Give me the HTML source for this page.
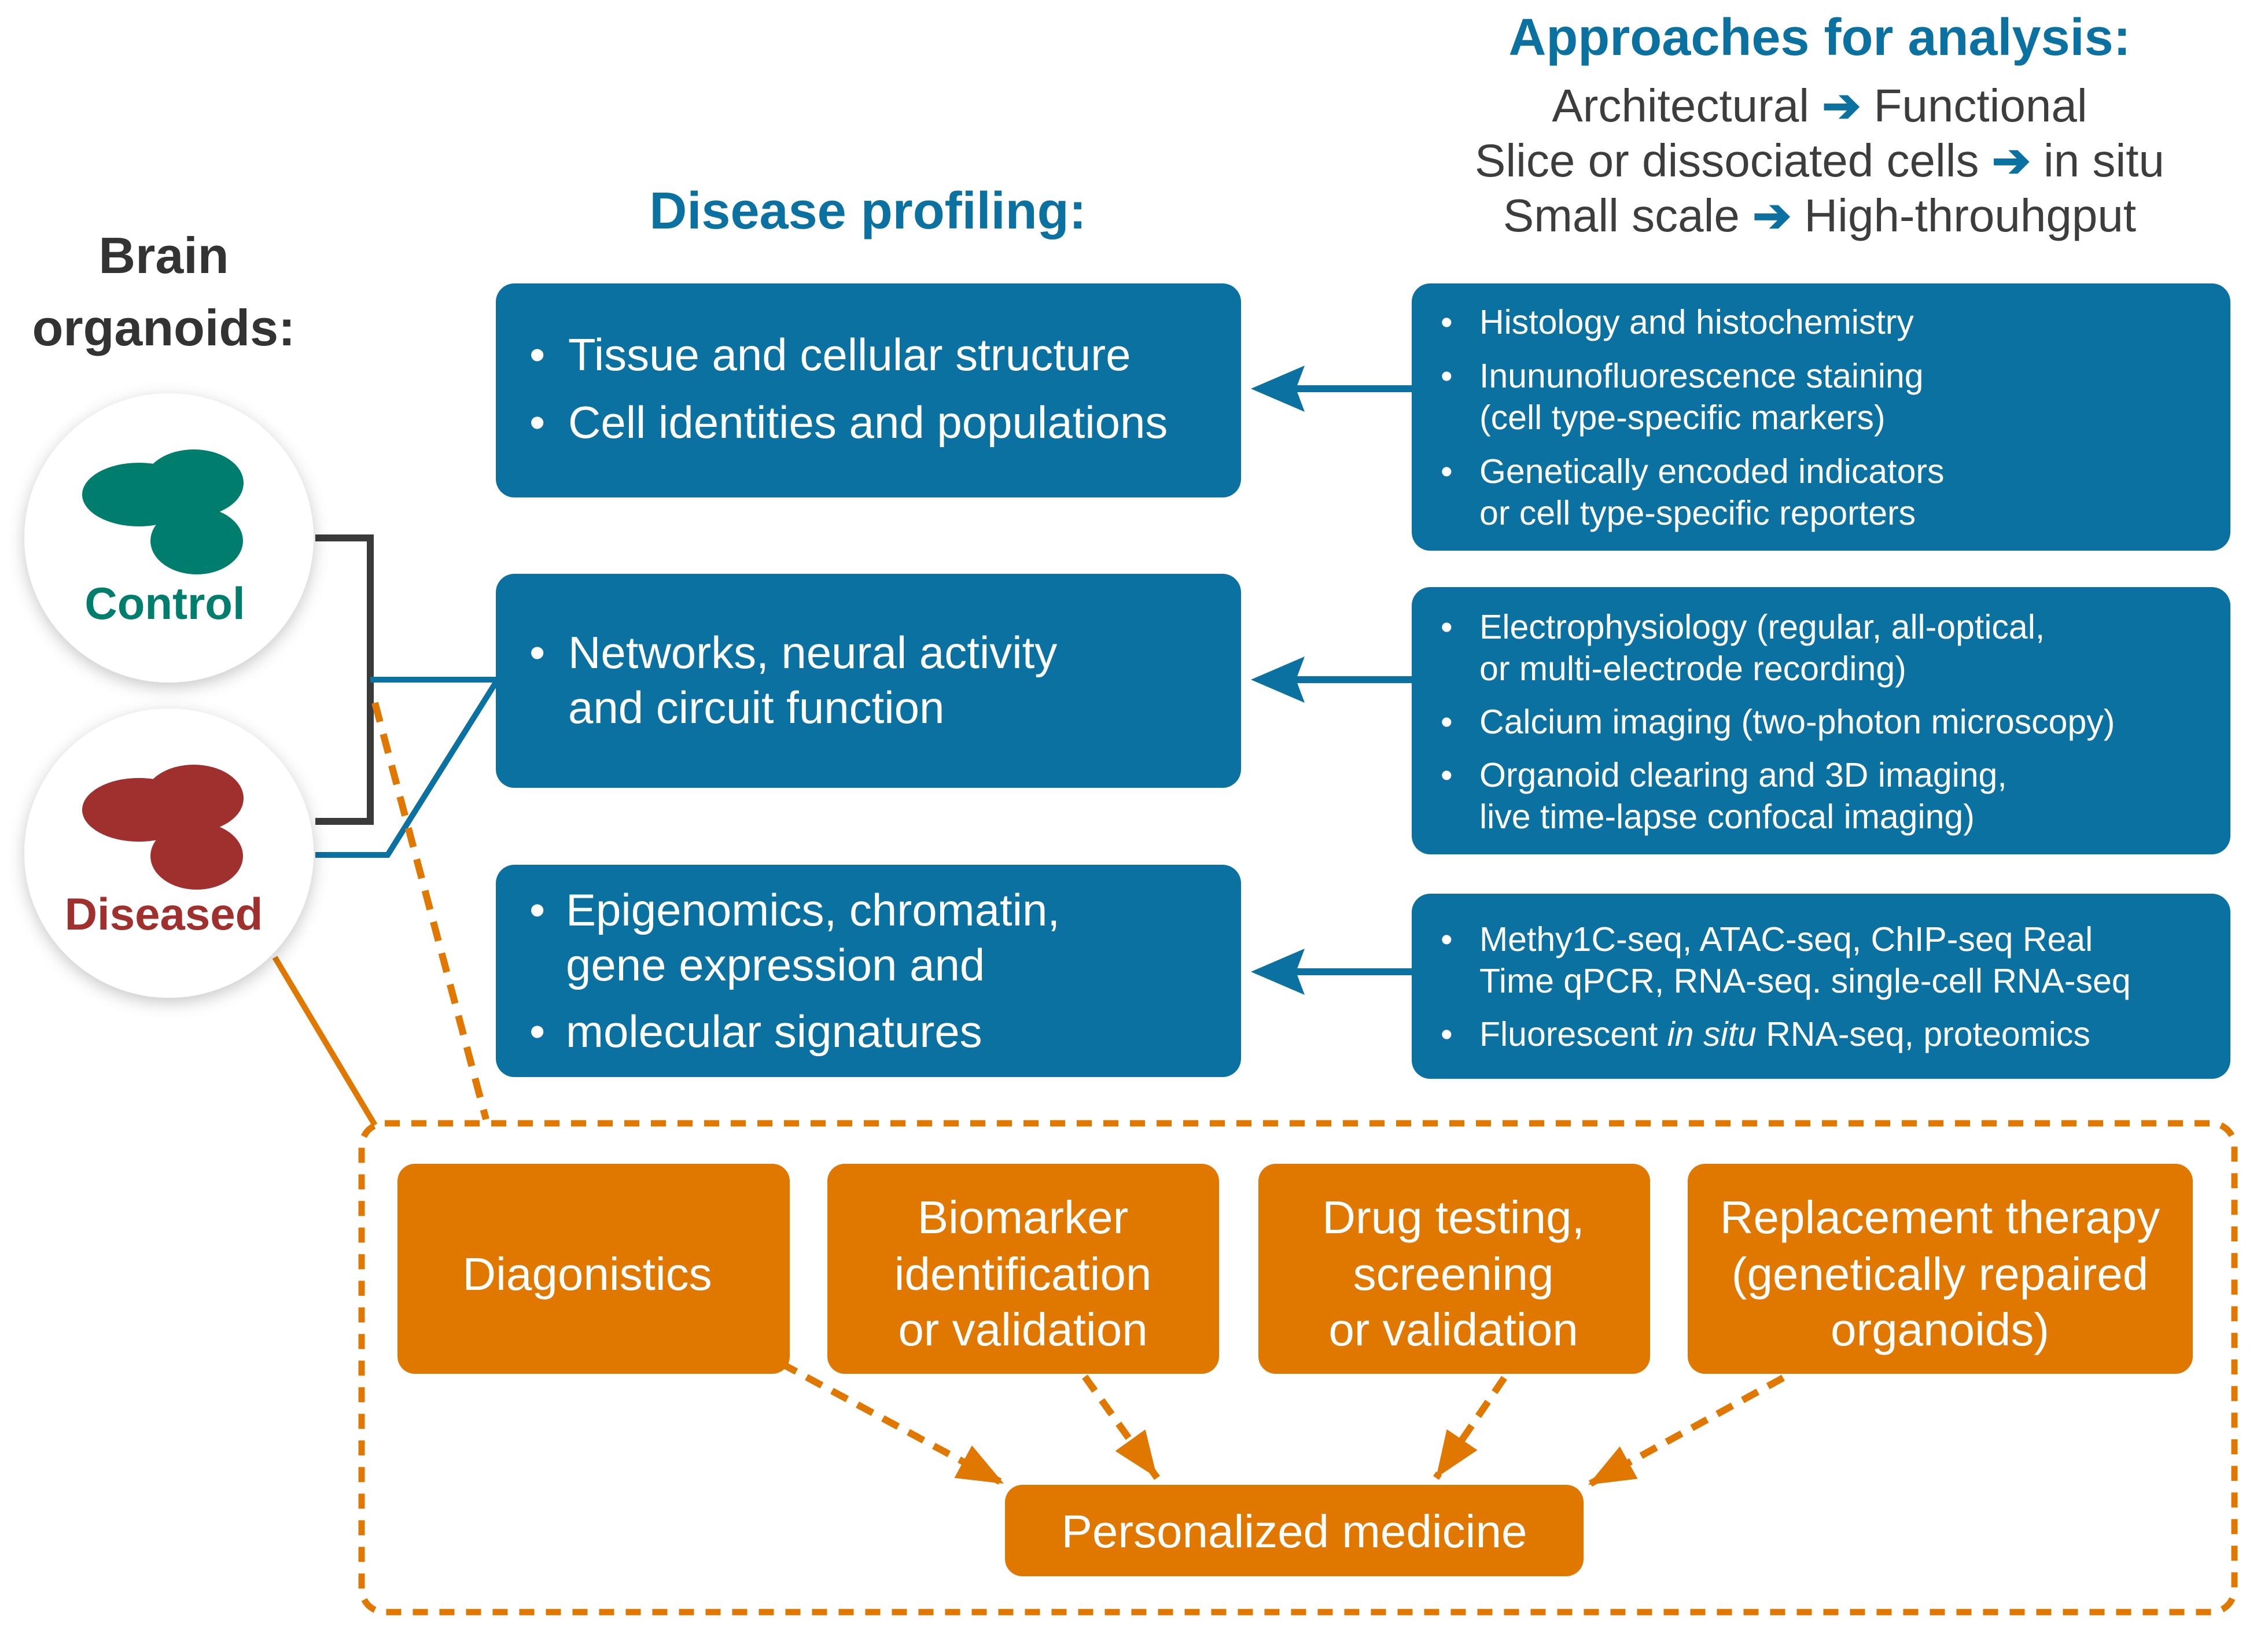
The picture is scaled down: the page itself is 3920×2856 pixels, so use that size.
<!DOCTYPE html>
<html><head><meta charset="utf-8"><style>
html,body{margin:0;padding:0;background:#fff}
svg{display:block}
text{font-family:"Liberation Sans",Arial,sans-serif}
</style></head><body>
<svg width="3920" height="2856" viewBox="0 0 3920 2856" xmlns="http://www.w3.org/2000/svg">
<defs>
<filter id="sh" x="-30%" y="-30%" width="160%" height="160%"><feDropShadow dx="0" dy="8" stdDeviation="14" flood-color="#000" flood-opacity="0.22"/></filter>
<marker id="ob" markerUnits="userSpaceOnUse" markerWidth="90" markerHeight="90" refX="80" refY="40" orient="auto"><path d="M0,8 L80,40 L0,72 Z" fill="#e07800"/></marker>
</defs>

<!-- headers -->
<text x="3145" y="95" text-anchor="middle" font-size="90" font-weight="bold" fill="#0a71a0">Approaches for analysis:</text>
<text x="3145" y="210" text-anchor="middle" font-size="80" fill="#3d3d3d">Architectural <tspan fill="#0a71a0" font-weight="bold">➔</tspan> Functional</text>
<text x="3145" y="305" text-anchor="middle" font-size="80" fill="#3d3d3d">Slice or dissociated cells <tspan fill="#0a71a0" font-weight="bold">➔</tspan> in situ</text>
<text x="3145" y="400" text-anchor="middle" font-size="80" fill="#3d3d3d">Small scale <tspan fill="#0a71a0" font-weight="bold">➔</tspan> High-throuhgput</text>
<text x="1500" y="395" text-anchor="middle" font-size="90" font-weight="bold" fill="#0a71a0">Disease profiling:</text>
<text x="283" y="472" text-anchor="middle" font-size="88" font-weight="bold" fill="#333">Brain</text>
<text x="283" y="597" text-anchor="middle" font-size="88" font-weight="bold" fill="#333">organoids:</text>

<!-- connectors -->
<path d="M545,930 H640 V1420 H545" fill="none" stroke="#3a3a3a" stroke-width="12"/>
<path d="M640,1175 H860" fill="none" stroke="#0a71a0" stroke-width="10"/>
<path d="M545,1478 H670 L860,1175" fill="none" stroke="#0a71a0" stroke-width="10"/>
<path d="M648,1215 L840,1935" fill="none" stroke="#e07800" stroke-width="12" stroke-dasharray="34,22"/>
<path d="M475,1655 L648,1945" fill="none" stroke="#e07800" stroke-width="10"/>

<!-- circles -->
<circle cx="292" cy="930" r="250" fill="#fff" filter="url(#sh)"/>
<circle cx="292" cy="1475" r="250" fill="#fff" filter="url(#sh)"/>
<g fill="#007e6d">
<ellipse cx="240" cy="855" rx="98" ry="55"/>
<ellipse cx="335" cy="835" rx="86" ry="58"/>
<ellipse cx="340" cy="935" rx="80" ry="58"/>
<rect x="270" y="860" width="110" height="60"/>
</g>
<text x="285" y="1070" text-anchor="middle" font-size="78" font-weight="bold" fill="#007e6d">Control</text>
<g fill="#a0302e">
<ellipse cx="240" cy="1400" rx="98" ry="55"/>
<ellipse cx="335" cy="1380" rx="86" ry="58"/>
<ellipse cx="340" cy="1480" rx="80" ry="58"/>
<rect x="270" y="1405" width="110" height="60"/>
</g>
<text x="283" y="1607" text-anchor="middle" font-size="78" font-weight="bold" fill="#a0302e">Diseased</text>

<!-- blue boxes -->
<g fill="#0a71a0">
<rect x="857" y="490" width="1288" height="370" rx="32"/>
<rect x="857" y="992" width="1288" height="370" rx="32"/>
<rect x="857" y="1495" width="1288" height="367" rx="32"/>
<rect x="2440" y="490" width="1415" height="462" rx="32"/>
<rect x="2440" y="1015" width="1415" height="462" rx="32"/>
<rect x="2440" y="1545" width="1415" height="320" rx="32"/>
</g>
<g font-size="78" fill="#fff">
<text x="915" y="640">•</text><text x="982" y="640">Tissue and cellular structure</text>
<text x="915" y="757">•</text><text x="982" y="757">Cell identities and populations</text>
<text x="915" y="1155">•</text><text x="982" y="1155">Networks, neural activity</text>
<text x="982" y="1250">and circuit function</text>
<text x="915" y="1600">•</text><text x="978" y="1600">Epigenomics, chromatin,</text>
<text x="978" y="1695">gene expression and</text>
<text x="915" y="1810">•</text><text x="978" y="1810">molecular signatures</text>
</g>
<g font-size="59" fill="#fff">
<text x="2490" y="577">•</text><text x="2557" y="577">Histology and histochemistry</text>
<text x="2490" y="670">•</text><text x="2557" y="670">Inununofluorescence staining</text>
<text x="2557" y="742">(cell type-specific markers)</text>
<text x="2490" y="835">•</text><text x="2557" y="835">Genetically encoded indicators</text>
<text x="2557" y="907">or cell type-specific reporters</text>
<text x="2490" y="1104">•</text><text x="2557" y="1104">Electrophysiology (regular, all-optical,</text>
<text x="2557" y="1176">or multi-electrode recording)</text>
<text x="2490" y="1268">•</text><text x="2557" y="1268">Calcium imaging (two-photon microscopy)</text>
<text x="2490" y="1360">•</text><text x="2557" y="1360">Organoid clearing and 3D imaging,</text>
<text x="2557" y="1432">live time-lapse confocal imaging)</text>
<text x="2490" y="1644">•</text><text x="2557" y="1644">Methy1C-seq, ATAC-seq, ChIP-seq Real</text>
<text x="2557" y="1716">Time qPCR, RNA-seq. single-cell RNA-seq</text>
<text x="2490" y="1808">•</text><text x="2557" y="1808">Fluorescent <tspan font-style="italic">in situ</tspan> RNA-seq, proteomics</text>
</g>

<!-- blue arrows -->
<g stroke="#0a71a0" stroke-width="12">
<line x1="2440" y1="672" x2="2230" y2="672"/>
<line x1="2440" y1="1175" x2="2230" y2="1175"/>
<line x1="2440" y1="1680" x2="2230" y2="1680"/>
</g>
<g fill="#0a71a0">
<path d="M2162,672 L2255,632 L2240,672 L2255,712 Z"/>
<path d="M2162,1175 L2255,1135 L2240,1175 L2255,1215 Z"/>
<path d="M2162,1680 L2255,1640 L2240,1680 L2255,1720 Z"/>
</g>

<!-- orange dashed container -->
<rect x="625" y="1942" width="3237" height="845" rx="40" fill="none" stroke="#e07800" stroke-width="11" stroke-dasharray="26,20"/>

<g fill="#e07800">
<rect x="687" y="2012" width="678" height="363" rx="30"/>
<rect x="1430" y="2012" width="677" height="363" rx="30"/>
<rect x="2175" y="2012" width="677" height="363" rx="30"/>
<rect x="2917" y="2012" width="873" height="363" rx="30"/>
<rect x="1737" y="2567" width="1000" height="158" rx="30"/>
</g>
<g font-size="80" fill="#fff" text-anchor="middle">
<text x="1015" y="2230">Diagonistics</text>
<text x="1768" y="2132">Biomarker</text>
<text x="1768" y="2230">identification</text>
<text x="1768" y="2326">or validation</text>
<text x="2512" y="2132">Drug testing,</text>
<text x="2512" y="2230">screening</text>
<text x="2512" y="2326">or validation</text>
<text x="3353" y="2132">Replacement therapy</text>
<text x="3353" y="2230">(genetically repaired</text>
<text x="3353" y="2326">organoids)</text>
<text x="2237" y="2675">Personalized medicine</text>
</g>

<!-- dashed orange arrows -->
<g stroke="#e07800" stroke-width="12" fill="none" stroke-dasharray="30,20">
<path d="M1350,2357 L1735,2565" marker-end="url(#ob)"/>
<path d="M1875,2380 L2000,2555" marker-end="url(#ob)"/>
<path d="M2600,2382 L2482,2555" marker-end="url(#ob)"/>
<path d="M3082,2382 L2745,2567" marker-end="url(#ob)"/>
</g>
</svg>
</body></html>
